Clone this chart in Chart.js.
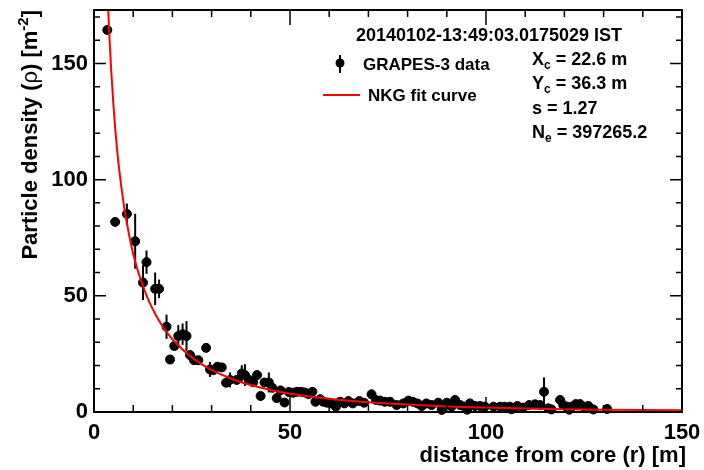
<!DOCTYPE html>
<html>
<head>
<meta charset="utf-8">
<script src="https://cdn.jsdelivr.net/npm/chart.js@4.4.1/dist/chart.umd.min.js"></script>
<style>
  html, body { margin: 0; padding: 0; background: #fff; }
</style>
</head>
<body>
<canvas id="densityChart" width="704" height="470"></canvas>
<script>
// measured densities per detector: distance from core (m), density (m^-2), error
const coreDist = [
  3.4, 5.4, 8.4, 10.5, 12.5, 13.4, 15.6, 16.6, 18.5, 19.4,
  20.5, 21.5, 22.6, 23.6, 24.5, 25.5, 26.6, 28.6, 29.6, 30.4,
  31.5, 32.6, 33.7, 34.7, 36.4, 37.7, 38.5, 39.6, 40.6, 41.6,
  42.5, 43.5, 44.6, 45.5, 46.6, 47.6, 48.6, 49.7, 50.8, 51.8,
  52.8, 53.8, 54.7, 55.7, 56.5, 57.7, 58.5, 59.5, 60.6, 61.7,
  62.8, 63.9, 64.9, 66.0, 67.7, 68.9, 70.8, 71.9, 73.0, 74.2,
  75.5, 77.2, 78.9, 80.2, 81.3, 82.5, 83.6, 84.8, 86.1, 87.8,
  88.7, 90.0, 91.2, 92.1, 93.4, 94.5, 95.2, 95.9, 97.2, 98.5,
  99.7, 101.9, 103.6, 104.8, 106.1, 106.5, 108.0, 109.5, 111.0, 112.5,
  113.8, 114.8, 115.9, 116.7, 118.9, 119.7, 120.7, 121.2, 121.9, 122.9,
  124.0, 125.0, 126.1, 127.4, 130.9
];
const density = [
  164.4, 81.8, 85.2, 73.5, 55.7, 64.5, 53.0, 53.0, 36.7, 22.6,
  28.4, 32.7, 33.5, 32.7, 24.5, 22.3, 22.3, 27.6, 18.3, 18.0,
  19.5, 19.2, 12.6, 13.8, 13.8, 16.6, 15.9, 13.8, 12.8, 15.9,
  6.9, 12.7, 12.7, 10.4, 6.0, 9.3, 4.1, 8.6, 8.3, 8.7,
  8.7, 8.4, 7.7, 8.7, 4.4, 5.5, 4.4, 4.0, 3.7, 2.3,
  4.4, 3.7, 4.7, 3.7, 4.7, 4.0, 7.6, 5.2, 4.9, 4.4,
  4.4, 3.0, 3.7, 4.9, 4.4, 3.7, 2.6, 3.7, 3.0, 4.0,
  0.9, 4.0, 2.3, 5.2, 3.0, 2.3, 1.0, 3.7, 2.6, 2.6,
  2.3, 2.3, 2.3, 2.3, 2.3, 1.2, 2.6, 1.9, 3.0, 3.3,
  3.0, 8.7, 1.6, 1.1, 5.2, 3.0, 2.3, 1.0, 2.3, 3.4,
  3.4, 2.3, 2.6, 1.1, 1.3
];
const densityErr = [
  1.0, 1.0, 4.5, 11.8, 7.5, 5.0, 7.0, 4.0, 5.2, 1.0,
  1.0, 4.7, 4.6, 6.4, 1.0, 1.0, 1.0, 1.0, 3.2, 1.0,
  1.0, 1.0, 1.0, 3.2, 1.0, 3.5, 4.7, 1.0, 1.0, 1.0,
  1.0, 1.0, 4.3, 1.0, 1.0, 1.0, 1.0, 1.0, 1.0, 1.0,
  1.0, 1.0, 1.0, 1.0, 1.0, 1.0, 1.0, 1.0, 1.0, 1.0,
  1.0, 1.0, 1.0, 1.0, 1.0, 1.0, 2.0, 1.0, 1.0, 1.0,
  1.0, 1.0, 1.0, 1.0, 1.0, 1.0, 1.0, 1.0, 1.0, 1.0,
  0.8, 1.0, 1.0, 1.0, 1.0, 1.0, 0.8, 1.0, 1.0, 1.0,
  1.0, 1.0, 1.0, 1.0, 1.0, 0.8, 1.0, 1.0, 1.0, 1.0,
  1.0, 6.2, 0.8, 0.8, 1.0, 1.0, 1.0, 0.8, 1.0, 1.0,
  1.0, 1.0, 1.0, 0.8, 0.8
];

// NKG fit curve, read along r
const fitDist = [3.4, 4, 5, 6, 7, 8, 10, 12, 14, 16, 18, 20, 25, 30, 35, 40, 45, 50,
  60, 70, 80, 90, 100, 110, 120, 130, 140, 150];
const fitDensity = [182, 159, 131, 111, 96.5, 85, 68, 56.5, 47.7, 41, 35.6, 31.3, 23.4, 18.1, 14.3, 11.6, 9.5, 7.9,
  5.7, 4.2, 3.2, 2.4, 1.9, 1.5, 1.2, 1.0, 0.84, 0.7];

const xTickValues = [0, 50, 100, 150];
const yTickValues = [0, 50, 100, 150];

const eventTime = '20140102-13:49:03.0175029 IST';
const fitParams = [
  ['X', 'c', ' = 22.6 m'],
  ['Y', 'c', ' = 36.3 m'],
  ['s', '', ' = 1.27'],
  ['N', 'e', ' = 397265.2'],
];

const FONT = "'Liberation Sans', Arial, Helvetica, sans-serif";
const bold = (px) => 'bold ' + px + 'px ' + FONT;

// draws a run of [text, font, dy] pieces starting at x, returns end x
function drawRun(ctx, x, y, parts) {
  parts.forEach(([txt, font, dy]) => {
    ctx.font = font;
    ctx.fillText(txt, x, y + (dy || 0));
    x += ctx.measureText(txt).width;
  });
  return x;
}
function runWidth(ctx, parts) {
  let w = 0;
  parts.forEach(([txt, font]) => { ctx.font = font; w += ctx.measureText(txt).width; });
  return w;
}

const errorBars = {
  id: 'errorBars',
  beforeDatasetsDraw(chart) {
    const { ctx, chartArea: a, scales: { x, y } } = chart;
    ctx.save();
    ctx.beginPath();
    ctx.rect(a.left, a.top, a.width, a.height);
    ctx.clip();
    ctx.strokeStyle = '#000';
    ctx.lineWidth = 2;
    coreDist.forEach((r, i) => {
      const px = x.getPixelForValue(r);
      ctx.beginPath();
      ctx.moveTo(px, y.getPixelForValue(density[i] - densityErr[i]));
      ctx.lineTo(px, y.getPixelForValue(density[i] + densityErr[i]));
      ctx.stroke();
    });
    ctx.restore();
  }
};

const frameTicks = {
  id: 'frameTicks',
  afterDraw(chart) {
    const { ctx, chartArea: a, scales: { x, y } } = chart;
    ctx.save();
    ctx.strokeStyle = '#000';
    ctx.lineWidth = 1.5;
    for (let v = 0; v <= 150; v += 10) {
      const px = x.getPixelForValue(v);
      const len = v % 50 === 0 ? 15 : 7;
      ctx.beginPath();
      ctx.moveTo(px, a.bottom); ctx.lineTo(px, a.bottom - len);
      ctx.moveTo(px, a.top); ctx.lineTo(px, a.top + len);
      ctx.stroke();
    }
    for (let v = 0; v <= 170; v += 10) {
      const py = y.getPixelForValue(v);
      const len = v % 50 === 0 ? 12 : 6;
      ctx.beginPath();
      ctx.moveTo(a.left, py); ctx.lineTo(a.left + len, py);
      ctx.moveTo(a.right, py); ctx.lineTo(a.right - len, py);
      ctx.stroke();
    }
    ctx.lineWidth = 2;
    ctx.strokeRect(a.left, a.top, a.width, a.height);
    ctx.restore();
  }
};

const annotations = {
  id: 'annotations',
  afterDraw(chart) {
    const { ctx, chartArea: a } = chart;
    ctx.save();
    ctx.fillStyle = '#000';
    ctx.textBaseline = 'alphabetic';

    // axis titles
    ctx.font = bold(22);
    ctx.textAlign = 'right';
    ctx.fillText('distance from core (r) [m]', a.right + 4, 462);
    ctx.textAlign = 'left';
    const yTitle = [
      ['Particle density (', bold(22)],
      ['\u03c1', '22px ' + FONT],
      [') [m', bold(22)],
      ['-2', bold(15), -9],
      [']', bold(22)],
    ];
    ctx.save();
    ctx.translate(37, a.top);
    ctx.rotate(-Math.PI / 2);
    drawRun(ctx, -runWidth(ctx, yTitle), 0, yTitle);
    ctx.restore();

    // event time
    ctx.font = bold(18);
    ctx.textAlign = 'center';
    ctx.fillText(eventTime, 489, 41);
    ctx.textAlign = 'left';

    // legend
    ctx.strokeStyle = '#000';
    ctx.lineWidth = 2;
    ctx.beginPath();
    ctx.moveTo(340, 55); ctx.lineTo(340, 73);
    ctx.stroke();
    ctx.beginPath();
    ctx.arc(340, 63, 4.5, 0, Math.PI * 2);
    ctx.fill();
    ctx.strokeStyle = '#ff0000';
    ctx.beginPath();
    ctx.moveTo(323, 95); ctx.lineTo(360, 95);
    ctx.stroke();
    ctx.font = bold(17);
    ctx.fillText('GRAPES-3 data', 363, 70);
    ctx.fillText('NKG fit curve', 368, 101);

    // fit parameters
    fitParams.forEach(([sym, sub, rest], i) => {
      const base = 65 + i * 24.3;
      drawRun(ctx, 532, base, [
        [sym, bold(18)],
        [sub, bold(12), 4],
        [rest, bold(18)],
      ]);
    });
    ctx.restore();
  }
};

new Chart(document.getElementById('densityChart'), {
  type: 'scatter',
  data: {
    datasets: [
      {
        type: 'line',
        label: 'NKG fit curve',
        data: fitDist.map((r, i) => ({ x: r, y: fitDensity[i] })),
        borderColor: 'rgb(255, 0, 0)',
        borderWidth: 2,
        pointRadius: 0,
        fill: false,
        cubicInterpolationMode: 'monotone',
      },
      {
        label: 'GRAPES-3 data',
        data: coreDist.map((r, i) => ({ x: r, y: density[i] })),
        backgroundColor: '#000',
        borderColor: '#000',
        pointRadius: 4.5,
        pointHoverRadius: 4.5,
        clip: 6,
      },
    ],
  },
  options: {
    responsive: false,
    animation: false,
    events: [],
    layout: { padding: { top: 10, right: 22, left: 0, bottom: 0 } },
    plugins: {
      legend: { display: false },
      tooltip: { enabled: false },
    },
    scales: {
      x: {
        type: 'linear',
        min: 0,
        max: 150,
        afterFit: (s) => { s.height = 58; s.paddingLeft = 0; s.paddingRight = 0; },
        afterBuildTicks: (s) => { s.ticks = xTickValues.map((v) => ({ value: v })); },
        grid: { display: false, drawTicks: false },
        border: { display: false },
        ticks: { color: '#000', font: { family: FONT, size: 22, weight: 'bold' }, padding: 8, maxRotation: 0 },
      },
      y: {
        type: 'linear',
        min: 0,
        max: 173,
        afterFit: (s) => { s.width = 94; s.paddingTop = 0; s.paddingBottom = 0; },
        afterBuildTicks: (s) => { s.ticks = yTickValues.map((v) => ({ value: v })); },
        grid: { display: false, drawTicks: false },
        border: { display: false },
        ticks: { color: '#000', font: { family: FONT, size: 22, weight: 'bold' }, padding: 6 },
      },
    },
  },
  plugins: [errorBars, frameTicks, annotations],
});
</script>
</body>
</html>
